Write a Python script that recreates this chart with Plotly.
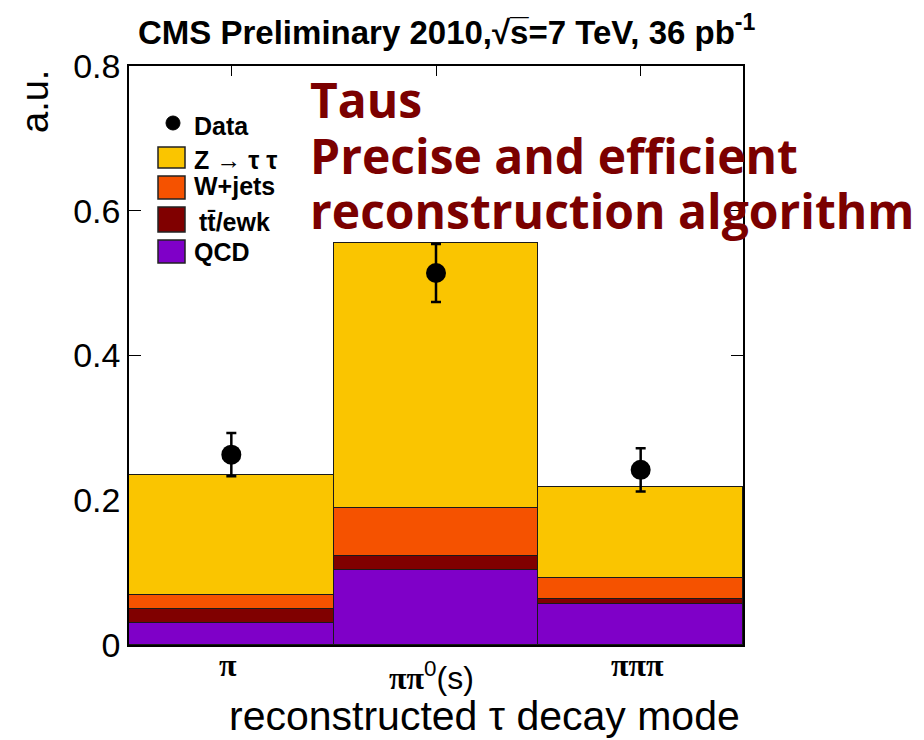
import plotly.graph_objects as go

# Reconstructed tau decay modes (bin labels) and stacked MC contributions (normalised)
modes = ["π", "ππ0(s)", "πππ"]
x_centers = [0.5, 1.5, 2.5]
qcd = [0.030, 0.104, 0.057]
ttbar_ewk = [0.020, 0.019, 0.006]
wjets = [0.019, 0.066, 0.029]
ztautau = [0.166, 0.367, 0.127]

# Observed data with statistical uncertainty
data_vals = [0.263, 0.514, 0.242]
data_err = [0.030, 0.040, 0.030]

colors = {
    "QCD": "#7f00c8",
    "tt̄/ewk": "#800000",
    "W+jets": "#f55200",
    "Z → τ τ": "#fac500",
}

fig = go.Figure()
for name, vals in [("QCD", qcd), ("tt̄/ewk", ttbar_ewk), ("W+jets", wjets), ("Z → τ τ", ztautau)]:
    fig.add_trace(go.Bar(
        x=x_centers, y=vals, width=1.0, name=name,
        marker=dict(color=colors[name], line=dict(color="#1a1a1a", width=1.2)),
        showlegend=False, hoverinfo="skip",
    ))

fig.add_trace(go.Scatter(
    x=x_centers, y=data_vals, mode="markers", name="Data",
    marker=dict(color="black", size=20),
    error_y=dict(type="data", array=data_err, color="black", thickness=2.5, width=5),
    showlegend=False,
))

fig.update_layout(
    width=924, height=740,
    margin=dict(l=129, r=181, t=66, b=95),
    paper_bgcolor="white", plot_bgcolor="white",
    barmode="stack", bargap=0,
    font=dict(family="Liberation Sans, Arial, sans-serif", color="black"),
)
fig.update_xaxes(
    range=[0, 3], tickvals=x_centers, showticklabels=False,
    ticks="inside", ticklen=10, tickwidth=1, tickcolor="black",
    showline=True, linecolor="black", linewidth=1.5, mirror="ticks",
    showgrid=False, zeroline=False, layer="below traces",
)
fig.update_yaxes(
    range=[0, 0.8], tickvals=[0, 0.2, 0.4, 0.6, 0.8],
    ticktext=["0", "0.2", "0.4", "0.6", "0.8"],
    ticks="inside", ticklen=12, tickwidth=1, tickcolor="black",
    tickfont=dict(size=34, family="Liberation Sans, Arial, sans-serif"),
    showline=True, linecolor="black", linewidth=1.5, mirror="ticks",
    showgrid=False, zeroline=False, layer="below traces",
)

# Bin labels below the axis (pixel positions, converted to paper below)
pi_font = "Liberation Serif, Times New Roman, serif"
bin_labels = [
    "<b>π</b>",
    "<b>ππ</b><sup><span style='font-family:Liberation Sans'>0</span></sup>"
    "<span style='font-family:Liberation Sans'>(s)</span>",
    "<b>πππ</b>",
]
label_px = [(228, 665), (431, 676), (637, 665)]
for (lx, ly), lab in zip(label_px, bin_labels):
    fig.add_annotation(x=lx, y=ly, xref="paper", yref="paper", text=lab, showarrow=False,
                       font=dict(family=pi_font, size=32, color="black"),
                       xanchor="center", yanchor="middle")

# Axis titles
fig.add_annotation(x=742, y=716, xref="paper", yref="paper", text="reconstructed τ decay mode",
                   showarrow=False, xanchor="right", yanchor="middle",
                   font=dict(size=41, color="black"))
fig.add_annotation(x=35, y=101, xref="paper", yref="paper", text="a.u.", textangle=-90,
                   showarrow=False, xanchor="center", yanchor="middle",
                   font=dict(size=38, color="black"))

# Header
fig.add_annotation(x=447, y=30, xref="paper", yref="paper",
                   text="<b>CMS Preliminary 2010,√s̅=7 TeV, 36 pb<sup>-1</sup></b>",
                   showarrow=False, xanchor="center", yanchor="middle",
                   font=dict(size=33, color="black"))

# Highlight text, one annotation per line
highlight_lines = ["Taus", "Precise and efficient", "reconstruction algorithm"]
for line, ly in zip(highlight_lines, [100, 155, 210]):
    fig.add_annotation(x=308, y=ly, xref="paper", yref="paper", text=f"<b>{line}</b>",
                       showarrow=False, xanchor="left", yanchor="middle",
                       font=dict(size=48, color="#7b0000", family="Open Sans, Lato, sans-serif"))

# Legend drawn inside the frame
legend_entries = [("Z → τ τ", colors["Z → τ τ"], 147, 168, 160),
                  ("W+jets", colors["W+jets"], 176, 199, 186),
                  ("tt̄/ewk", colors["tt̄/ewk"], 207, 232, 222),
                  ("QCD", colors["QCD"], 240, 263, 252)]
fig.add_shape(type="circle", xref="paper", yref="paper", x0=166, x1=180, y0=116, y1=130,
              fillcolor="black", line=dict(color="black", width=1))
fig.add_annotation(x=192, y=126, xref="paper", yref="paper", text="<b>Data</b>",
                   showarrow=False, xanchor="left", yanchor="middle", font=dict(size=25, color="black"))
for label, col, y0, y1, ty in legend_entries:
    fig.add_shape(type="rect", xref="paper", yref="paper", x0=158, x1=185, y0=y0, y1=y1,
                  fillcolor=col, line=dict(color="#222222", width=1.5))
    fig.add_annotation(x=192 if label != "tt̄/ewk" else 197, y=ty, xref="paper", yref="paper",
                       text=f"<b>{label}</b>", showarrow=False, xanchor="left", yanchor="middle",
                       font=dict(size=25, color="black"))

# Convert pixel positions for paper-referenced overlays
W, H = 924, 740
L, R, T, B = 129, 181, 66, 95
pw, ph = W - L - R, H - T - B
for ann in fig.layout.annotations:
    if ann.xref == "paper":
        ann.x = (ann.x - L) / pw
        ann.y = 1 - (ann.y - T) / ph
for shp in fig.layout.shapes:
    if shp.xref == "paper":
        shp.x0 = (shp.x0 - L) / pw
        shp.x1 = (shp.x1 - L) / pw
        y0, y1 = shp.y0, shp.y1
        shp.y0 = 1 - (y1 - T) / ph
        shp.y1 = 1 - (y0 - T) / ph

fig.write_html("out.html")
